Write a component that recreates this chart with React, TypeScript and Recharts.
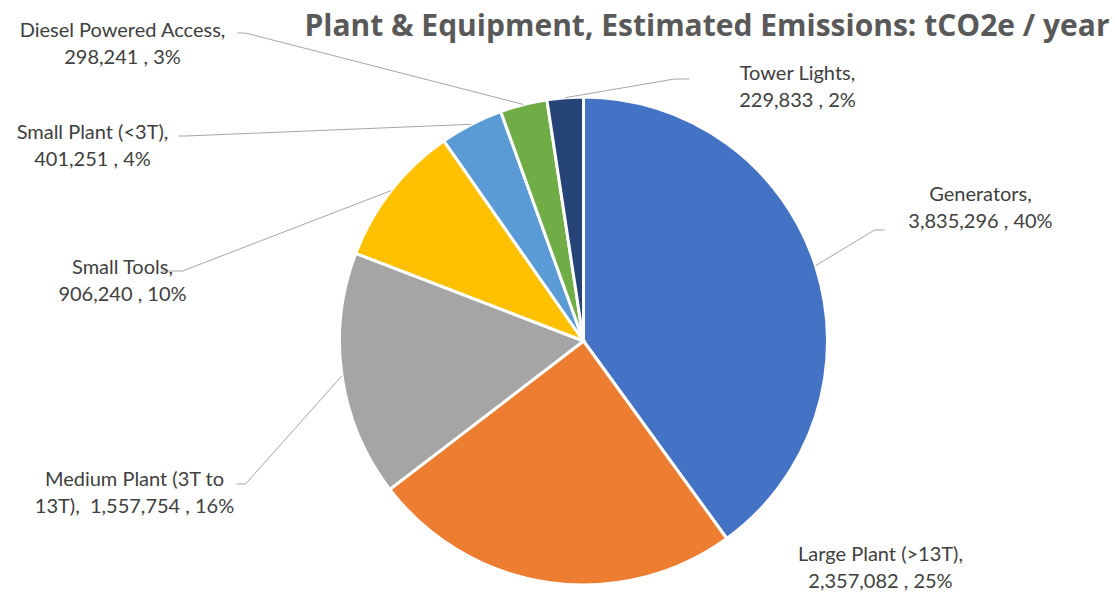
import { PieChart, Pie, Cell } from "recharts";

const categories = [
  "Generators",
  "Large Plant (>13T)",
  "Medium Plant (3T to 13T)",
  "Small Tools",
  "Small Plant (<3T)",
  "Diesel Powered Access",
  "Tower Lights",
];
const emissions = [3835296, 2357082, 1557754, 906240, 401251, 298241, 229833];
const percentLabels = ["40%", "25%", "16%", "10%", "4%", "3%", "2%"];
const colors = ["#4472C4", "#ED7D31", "#A5A5A5", "#FFC000", "#5B9BD5", "#70AD47", "#264478"];

const data = categories.map((name, i) => ({ name, value: emissions[i], pct: percentLabels[i] }));

// label placement relative to pie centre; elbow/end = leader line points (null = no line)
const labelLayout = [
  { dx: 397, dy: -133, elbow: [291, -111], end: [301, -111], wrapAfter: "" },
  { dx: 297, dy: 227, elbow: null, end: null, wrapAfter: "" },
  { dx: -449, dy: 152, elbow: [-338, 143], end: [-347, 143], wrapAfter: "(3T to" },
  { dx: -461, dy: -60, elbow: [-401, -70], end: [-423, -70], wrapAfter: "" },
  { dx: -491, dy: -195, elbow: [-398, -205], end: [-405, -205], wrapAfter: "" },
  { dx: -461, dy: -297, elbow: [-338, -308], end: [-346, -308], wrapAfter: "" },
  { dx: 214, dy: -254, elbow: [91, -262], end: [106, -262], wrapAfter: "" },
];

const RAD = Math.PI / 180;
const textColor = "#404040";
const lineColor = "#A6A6A6";

function labelLines(i: number): string[] {
  const d = data[i];
  const val = d.value.toLocaleString("en-US");
  const lay = labelLayout[i];
  if (lay.wrapAfter) {
    const cut = d.name.indexOf(lay.wrapAfter) + lay.wrapAfter.length;
    return [d.name.slice(0, cut), `${d.name.slice(cut).trim()},  ${val} , ${d.pct}`];
  }
  return [`${d.name},`, `${val} , ${d.pct}`];
}

function renderLabel(props: any) {
  const { cx, cy, midAngle, outerRadius, index } = props;
  const lay = labelLayout[index];
  const lines = labelLines(index);
  const sx = cx + Math.cos(-midAngle * RAD) * outerRadius;
  const sy = cy + Math.sin(-midAngle * RAD) * outerRadius;
  const tx = cx + lay.dx;
  const ty = cy + lay.dy;
  return (
    <g key={`lbl-${index}`}>
      {lay.elbow && lay.end && (
        <polyline
          points={`${sx},${sy} ${cx + lay.elbow[0]},${cy + lay.elbow[1]} ${cx + lay.end[0]},${cy + lay.end[1]}`}
          fill="none"
          stroke={lineColor}
          strokeWidth={1}
        />
      )}
      <text
        x={tx}
        y={ty}
        textAnchor="middle"
        fill={textColor}
        fontSize={20}
        fontFamily="Lato, sans-serif"
        style={{ whiteSpace: "pre" }}
      >
        <tspan x={tx} dy={-7}>{lines[0]}</tspan>
        <tspan x={tx} dy={27}>{lines[1]}</tspan>
      </text>
    </g>
  );
}

export default function App() {
  return (
    <div style={{ position: "absolute", left: 0, top: 0, width: 1115, height: 595, background: "#fff" }}>
      <PieChart width={1115} height={595} margin={{ top: 0, right: 0, bottom: 0, left: 0 }}>
        <text
          x={707}
          y={36}
          textAnchor="middle"
          fill="#595959"
          fontSize={30}
          fontWeight={700}
          fontFamily="'Open Sans', sans-serif"
        >
          Plant &amp; Equipment, Estimated Emissions: tCO2e / year
        </text>
        <Pie
          data={data}
          dataKey="value"
          nameKey="name"
          cx={583.5}
          cy={341}
          outerRadius={244}
          startAngle={90}
          endAngle={-270}
          stroke="#FFFFFF"
          strokeWidth={3}
          label={renderLabel}
          labelLine={false}
          isAnimationActive={false}
        >
          {data.map((d, i) => (
            <Cell key={d.name} fill={colors[i]} />
          ))}
        </Pie>
      </PieChart>
    </div>
  );
}
